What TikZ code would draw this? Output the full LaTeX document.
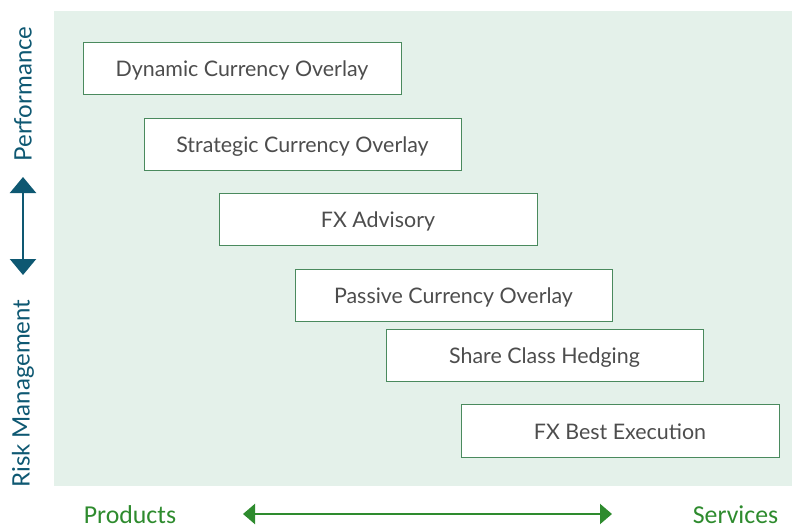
\documentclass[tikz,border=0pt]{standalone}
\usepackage{fontspec}
\setmainfont{Lato}
\newfontfamily\calfont{Carlito}
\usetikzlibrary{arrows.meta}
\definecolor{panel}{HTML}{E4F1EA}
\definecolor{boxline}{HTML}{4A8A5E}
\definecolor{boxtext}{HTML}{4D4D4D}
\definecolor{teal}{HTML}{0E5872}
\definecolor{grn}{HTML}{2E8B2E}
\begin{document}
\begin{tikzpicture}[x=1pt,y=-1pt,
  itembox/.style={draw=boxline,line width=0.9pt,fill=white,inner sep=0pt,
    text=boxtext,font=\fontsize{21.4}{24}\selectfont,text height=17.4pt,text depth=0pt},
  axislabel/.style={text=teal,font=\fontsize{24}{28}\selectfont,rotate=90,inner sep=0pt},
  endlabel/.style={text=grn,font=\calfont\fontsize{25.8}{28}\selectfont,inner sep=0pt,anchor=base}]
\useasboundingbox (0,0) rectangle (792,525);
\fill[panel] (54,11) rectangle (792,486);
\node[itembox,minimum width=318pt,minimum height=52pt] (b1) at (242,68) {Dynamic Currency Overlay};
\node[itembox,minimum width=317pt,minimum height=52pt] (b2) at (302.5,144) {Strategic Currency Overlay};
\node[itembox,minimum width=318pt,minimum height=52pt] (b3) at (378,219) {FX Advisory};
\node[itembox,minimum width=317pt,minimum height=52pt] (b4) at (453.5,295) {Passive Currency Overlay};
\node[itembox,minimum width=317pt,minimum height=52pt] (b5) at (544.5,355) {Share Class Hedging};
\node[itembox,minimum width=318pt,minimum height=53pt] (b6) at (620,430.5) {FX Best Execution};
\node[axislabel] (perf) at (23,94) {Performance};
\node[axislabel] (risk) at (23,393.5) {Risk Management};
\coordinate (vt) at (23,177);
\coordinate (vb) at (23,275);
\draw[teal,line width=2.2pt,{Triangle[length=16pt,width=26pt]}-{Triangle[length=16pt,width=26pt]}] (vt) -- (vb);
\node[endlabel] (prod) at (130,523) {Products};
\node[endlabel] (serv) at (735.5,523) {Services};
\coordinate (hl) at (243,514);
\coordinate (hr) at (612,514);
\draw[grn,line width=2.2pt,{Triangle[length=12pt,width=20pt]}-{Triangle[length=12pt,width=20pt]}] (hl) -- (hr);
\end{tikzpicture}
\end{document}
